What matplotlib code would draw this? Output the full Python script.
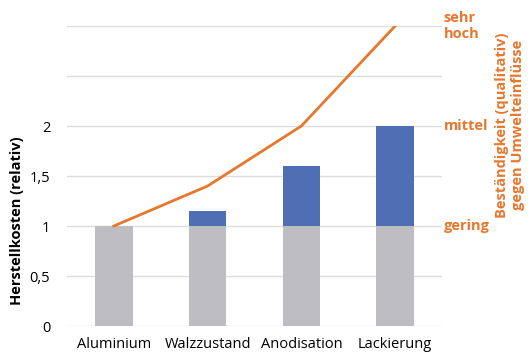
import matplotlib
matplotlib.use('Agg')
import matplotlib.pyplot as plt

categories = ['Aluminium', 'Walzzustand', 'Anodisation', 'Lackierung']
base_cost = [1, 1, 1, 1]
extra_cost = [0, 0.15, 0.6, 1.0]
resistance = [1, 1.4, 2, 3]
resistance_labels = ['gering', 'mittel', 'sehr\nhoch']
resistance_ticks = [1, 2, 3]
cost_tick_labels = ['0', '0,5', '1', '1,5', '2']

gray = '#BDBDC2'
blue = '#4F6EB3'
orange = '#E8772E'

plt.rcParams['font.family'] = ['Open Sans', 'DejaVu Sans']

fig = plt.figure(figsize=(5.32, 3.62), dpi=100)
ax = fig.add_axes([67/532, 1 - 326/362, 375/532, 300/362])

x = range(len(categories))
ax.bar(x, base_cost, width=0.4, color=gray, zorder=2)
ax.bar(x, extra_cost, width=0.4, bottom=base_cost, color=blue, zorder=2)
ax.plot(x, resistance, color=orange, lw=2, zorder=3)

ax.set_xlim(-0.5, 3.5)
ax.set_ylim(0, 3)
ax.set_yticks([0, 0.5, 1, 1.5, 2, 2.5, 3])
ax.set_yticklabels(cost_tick_labels + ['', ''])
ax.set_xticks(list(x))
ax.set_xticklabels(categories, fontsize=10.5)
ax.tick_params(axis='y', labelsize=10.5, length=0, pad=12)
ax.tick_params(axis='x', length=0, pad=8)
ax.grid(axis='y', color='#DDDDDD', lw=1, zorder=0)
for s in ax.spines.values():
    s.set_visible(False)

ax.set_ylabel('Herstellkosten (relativ)', fontsize=10.5, fontweight='bold')
ax.yaxis.set_label_coords(-0.115, 0.35)

for v, lab in zip(resistance_ticks, resistance_labels):
    ax.text(3.52, v, lab, color=orange, fontsize=10.5, fontweight='bold',
            va='center', ha='left', linespacing=1.25)

fig.text(510/532, 1 - 125/362, 'Beständigkeit (qualitativ)\ngegen Umwelteinflüsse',
         color=orange, fontsize=10.5, fontweight='bold', rotation=90,
         ha='center', va='center', multialignment='center', linespacing=1.15)

fig.savefig('out.png', dpi=100)
